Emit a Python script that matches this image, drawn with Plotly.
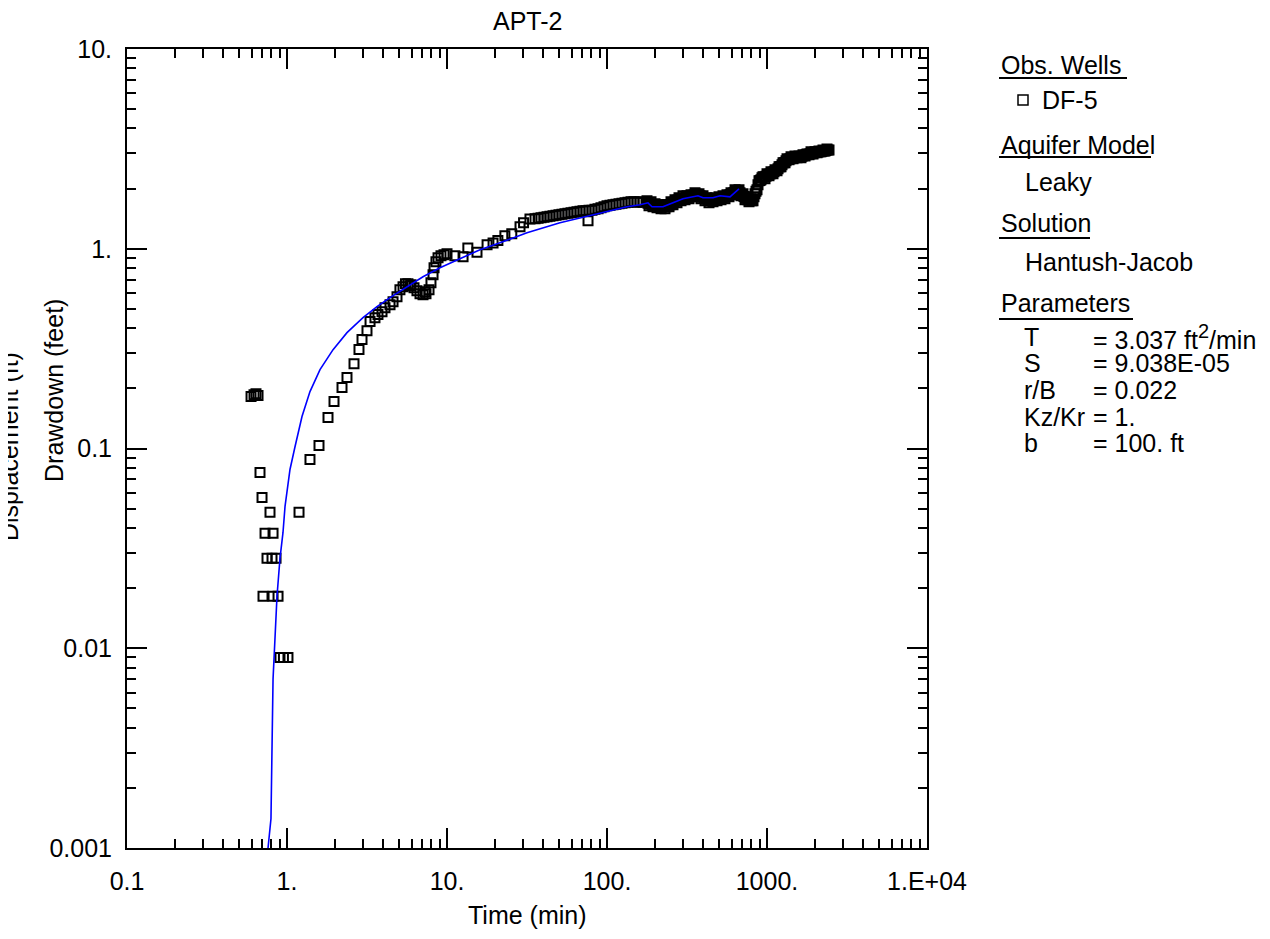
import plotly.graph_objects as go

# ---------------- data ----------------
obs_time = [
    0.596, 0.622, 0.640, 0.659,
    0.678, 0.698, 0.783, 1.189,
    0.729, 0.818,
    0.750, 0.806, 0.854,
    0.708, 0.818, 0.879,
    0.904, 0.950, 1.014,
    1.392, 1.585, 1.804, 1.967, 2.207, 2.371, 2.623, 2.818, 2.943, 3.162, 3.304,
    3.546, 3.703, 3.925, 4.097, 4.404, 4.600,
    4.87, 5.08, 5.31, 5.50, 5.70, 5.87, 5.96, 6.22, 6.49, 6.78, 7.08, 7.29, 7.39, 7.72,
    7.94, 8.18, 8.30, 8.53, 8.79, 9.17, 9.58, 10.0, 11.2,
    12.6, 13.5, 15.4, 17.8, 19.4, 20.8, 23.0, 25.4, 28.6, 30.1, 33.0,
    35.5, 37.1, 38.7, 40.4, 42.2, 44.0, 46.0, 48.0, 50.1, 52.3, 54.6, 57.0, 59.6,
    62.2, 64.9, 67.8, 70.8, 73.9, 76.1, 77.2,
    80.6, 84.1, 87.9, 91.7, 95.8, 100.0, 104.4, 109.0, 113.8, 118.9, 124.1, 129.6,
    135.3, 141.3, 147.5, 154.0, 160.8, 167.9,
    177.8, 183.0, 188.4, 193.9, 199.5, 205.4, 211.3, 217.6, 223.9, 230.4, 237.1,
    244.1, 251.2, 258.5, 266.1, 273.8, 281.8, 290.1, 298.5, 307.2, 316.2, 325.4,
    335.0, 344.7, 354.8, 365.2, 375.8, 386.8, 398.1, 409.7, 421.7, 434.0, 446.7,
    459.7, 473.2, 487.0, 501.2, 515.8, 530.9, 546.4, 562.3, 578.8, 595.7, 613.1,
    631.0, 649.4, 668.3, 687.9, 707.9, 728.6, 749.9, 771.8, 794.3, 817.5, 841.4,
    866.0, 891.3, 917.3, 944.1, 971.7, 1000, 1029, 1059, 1090, 1122, 1155, 1189,
    1223, 1259, 1296, 1334, 1373, 1413, 1454, 1496, 1540, 1585, 1631, 1679, 1728,
    1778, 1830, 1884, 1939, 1995, 2054, 2113, 2175, 2239, 2304, 2371, 2441,
]
obs_drawdown = [
    0.182, 0.186, 0.188, 0.184,
    0.0759, 0.0569, 0.0479, 0.0479,
    0.0376, 0.0376,
    0.0282, 0.0282, 0.0282,
    0.0182, 0.0182, 0.0182,
    0.0090, 0.0090, 0.0090,
    0.0881, 0.1035, 0.143, 0.172, 0.202, 0.2265, 0.266, 0.313, 0.351, 0.389, 0.432,
    0.452, 0.468, 0.484, 0.507, 0.525, 0.543,
    0.575, 0.624, 0.646, 0.668, 0.668, 0.653, 0.660, 0.638, 0.617, 0.596, 0.589, 0.610, 0.596, 0.624,
    0.676, 0.741, 0.804, 0.861, 0.902, 0.923, 0.933, 0.944, 0.923,
    0.912, 1.01, 0.96, 1.047, 1.07, 1.10, 1.16, 1.19, 1.29, 1.35, 1.41,
    1.413, 1.420, 1.429, 1.437, 1.445, 1.454, 1.462, 1.471, 1.479, 1.488, 1.496, 1.505, 1.514,
    1.523, 1.531, 1.540, 1.549, 1.549, 1.380, 1.557,
    1.557, 1.575, 1.585, 1.603, 1.622, 1.641, 1.650, 1.660, 1.669, 1.679, 1.689, 1.698,
    1.708, 1.718, 1.718, 1.708, 1.718, 1.708,
    1.738, 1.641, 1.718, 1.622, 1.679, 1.603, 1.660, 1.585, 1.660, 1.585, 1.660,
    1.622, 1.718, 1.660, 1.758, 1.698, 1.799, 1.738, 1.841, 1.758, 1.841, 1.778,
    1.862, 1.820, 1.905, 1.841, 1.884, 1.778, 1.841, 1.738, 1.799, 1.698, 1.778,
    1.718, 1.799, 1.738, 1.820, 1.758, 1.841, 1.778, 1.862, 1.820, 1.905, 1.862,
    1.972, 1.905, 1.972, 1.841, 1.884, 1.758, 1.799, 1.718, 1.778, 1.738, 1.884,
    1.972, 2.188, 2.213, 2.291, 2.239, 2.371, 2.317, 2.427, 2.371, 2.483, 2.455, 2.570,
    2.570, 2.692, 2.692, 2.818, 2.786, 2.884, 2.818, 2.917, 2.851, 2.917, 2.851, 2.951, 2.917,
    2.985, 2.951, 3.055, 2.985, 3.055, 3.020, 3.090, 3.055, 3.126, 3.090, 3.162, 3.126,
]

# the dense, overlapping band of readings after ~180 min
band_time = [
    180.4, 185.7, 191.1, 196.7, 202.4, 208.4, 214.4, 220.8, 227.1, 233.7, 240.5,
    247.6, 254.8, 262.2, 269.9, 277.8, 285.9, 294.3, 302.8, 311.7, 320.8, 330.1,
    339.8, 349.7, 359.9, 370.5, 381.2, 392.4, 403.9, 415.6, 427.8, 440.3, 453.2,
    466.4, 480.1, 494.1, 508.5, 523.3, 538.6, 554.3, 570.4, 587.2, 604.3, 622.0,
    640.1, 658.8, 678.0, 697.9, 718.2, 739.2, 760.8, 783.0, 805.8, 829.4, 853.6,
    878.5, 904.2, 930.6, 957.8, 985.8, 1014, 1044, 1074, 1106, 1138, 1172, 1206,
    1241, 1277, 1315, 1353, 1393, 1433, 1475, 1518, 1562, 1608, 1655, 1703, 1753,
    1804, 1857, 1911, 1967, 2024, 2084, 2144, 2207, 2271, 2337, 2405,
]
band_drawdown = [
    1.692, 1.679, 1.665, 1.654, 1.642, 1.633, 1.622, 1.622, 1.622, 1.622, 1.635,
    1.660, 1.685, 1.710, 1.732, 1.756, 1.778, 1.786, 1.795, 1.803, 1.811, 1.820,
    1.839, 1.856, 1.875, 1.868, 1.841, 1.814, 1.791, 1.772, 1.756, 1.738, 1.746,
    1.754, 1.762, 1.770, 1.778, 1.793, 1.809, 1.824, 1.841, 1.866, 1.892, 1.914,
    1.932, 1.950, 1.905, 1.862, 1.824, 1.791, 1.758, 1.748, 1.738, 1.820, 1.939,
    2.089, 2.196, 2.265, 2.286, 2.307, 2.333, 2.366, 2.399, 2.432, 2.466, 2.512,
    2.570, 2.630, 2.692, 2.754, 2.799, 2.825, 2.851, 2.858, 2.868, 2.874, 2.884,
    2.908, 2.928, 2.951, 2.972, 2.990, 3.010, 3.027, 3.038, 3.048, 3.062, 3.076,
    3.090, 3.108, 3.126,
]

fit_time = [
    0.761, 0.794, 0.818, 0.866, 0.904, 0.944, 0.972, 1.044, 1.122, 1.241, 1.392,
    1.608, 1.94, 2.371, 2.985, 3.652, 4.404, 5.623, 7.079, 9.04, 12.06, 16.08,
    21.44, 31.62, 50.84, 81.75, 133.4, 160.8, 180.4, 191.1, 223.9, 258.5, 298.5,
    370.4, 398.1, 459.7, 508.5, 587.1, 631.0, 668.3,
]
fit_drawdown = [
    0.001, 0.0014, 0.0070, 0.0182, 0.0282, 0.0380, 0.0513, 0.0785, 0.102, 0.1445, 0.1928,
    0.2483, 0.3126, 0.3802, 0.4519, 0.5129, 0.5689, 0.646, 0.724, 0.804, 0.891, 0.989,
    1.072, 1.202, 1.349, 1.479, 1.622, 1.660, 1.698, 1.622, 1.622, 1.698, 1.778,
    1.841, 1.799, 1.799, 1.841, 1.820, 1.928, 1.995,
]

x_tick_vals = [0.1, 1, 10, 100, 1000, 10000]
x_tick_text = ["0.1", "1.", "10.", "100.", "1000.", "1.E+04"]
y_tick_vals = [0.001, 0.01, 0.1, 1, 10]
y_tick_text = ["0.001", "0.01", "0.1", "1.", "10."]

chart_title = "APT-2"
x_title = "Time (min)"
y_title = "Drawdown (feet)"
y_title_hidden = "Displacement (ft)"
well_name = "DF-5"
param_names = ["T", "S", "r/B", "Kz/Kr", "b"]
param_values = [
    "= 3.037 ft<sup><span style='font-size:20px'>2</span></sup>/min",
    "= 9.038E-05", "= 0.022", "= 1.", "= 100. ft",
]

# ---------------- layout helpers ----------------
OFF = 8                      # page body margin in the browser
W, H = 1270 - OFF, 939 - OFF
L, R, T, B = 127, 927, 49, 848   # plot box in window pixels
FONT = "Liberation Sans, Arial, sans-serif"
FS = 25


def px(x):
    return (x - L) / (R - L)


def py(y):
    return (B - y) / (B - T)


def minor_vals(lo, hi):
    out = []
    for e in range(lo, hi):
        for d in range(2, 10):
            out.append(d * 10 ** e)
    return out


fig = go.Figure()
fig.add_trace(go.Scatter(
    x=obs_time + band_time, y=obs_drawdown + band_drawdown, mode="markers",
    marker=dict(symbol="square-open", size=9, color="black", line=dict(width=2, color="black")),
    showlegend=False,
))
fig.add_trace(go.Scatter(
    x=fit_time, y=fit_drawdown, mode="lines",
    line=dict(color="#0000ff", width=1.6),
    showlegend=False,
))

axis_common = dict(
    type="log", showgrid=False, zeroline=False,
    showline=True, linecolor="black", linewidth=2, mirror="ticks",
    ticks="inside", ticklen=20, tickwidth=1.5, tickcolor="black",
    tickfont=dict(family=FONT, size=FS, color="black"),
)

fig.update_xaxes(
    range=[-1, 4], tickvals=x_tick_vals, ticktext=x_tick_text,
    minor=dict(ticks="inside", ticklen=9, tickwidth=1.5, tickcolor="black",
               tickvals=minor_vals(-1, 4)),
    ticklabelstandoff=10,
    **axis_common,
)
fig.update_yaxes(
    range=[-3, 1], tickvals=y_tick_vals, ticktext=y_tick_text,
    minor=dict(ticks="inside", ticklen=9, tickwidth=1.5, tickcolor="black",
               tickvals=minor_vals(-3, 1)),
    ticklabelstandoff=8,
    **axis_common,
)

ann = []


def text(x, y, s, anchor="left", angle=0, pad=1):
    ann.append(dict(
        x=px(x), y=py(y), xref="paper", yref="paper", text=s, showarrow=False,
        xanchor=anchor, yanchor="middle", textangle=angle, borderpad=pad,
        font=dict(family=FONT, size=FS, color="black"),
    ))


text(527, 21, chart_title, "center", pad=0)
text(527, 915, x_title, "center")
text(54, 391, y_title, "center", -90)
text(9, 447, y_title_hidden, "center", -90)

text(999, 65, "Obs. Wells")
text(1040, 100, well_name)
text(999, 145, "Aquifer Model")
text(1023, 182, "Leaky")
text(999, 223, "Solution")
text(1023, 262, "Hantush-Jacob")
text(999, 303, "Parameters")
for i, (n, v) in enumerate(zip(param_names, param_values)):
    yy = 337 + i * 26.5
    text(1023, yy, n, pad=0)
    text(1092, yy, v, pad=0)

shapes = []
for y0, x1 in [(78, 1127), (157, 1151), (238, 1090), (319, 1133)]:
    shapes.append(dict(type="line", xref="paper", yref="paper",
                       x0=px(999), x1=px(x1), y0=py(y0), y1=py(y0),
                       line=dict(color="black", width=2)))
shapes.append(dict(type="rect", xref="paper", yref="paper",
                   x0=px(1018), x1=px(1028), y0=py(105), y1=py(95),
                   line=dict(color="black", width=1.5), fillcolor="white"))

fig.update_layout(
    width=W, height=H, autosize=False,
    margin=dict(l=L - OFF, r=W - (R - OFF), t=T - OFF, b=H - (B - OFF), pad=0),
    paper_bgcolor="white", plot_bgcolor="white",
    annotations=ann, shapes=shapes,
    font=dict(family=FONT, size=FS, color="black"),
)

fig.write_html("out.html")
